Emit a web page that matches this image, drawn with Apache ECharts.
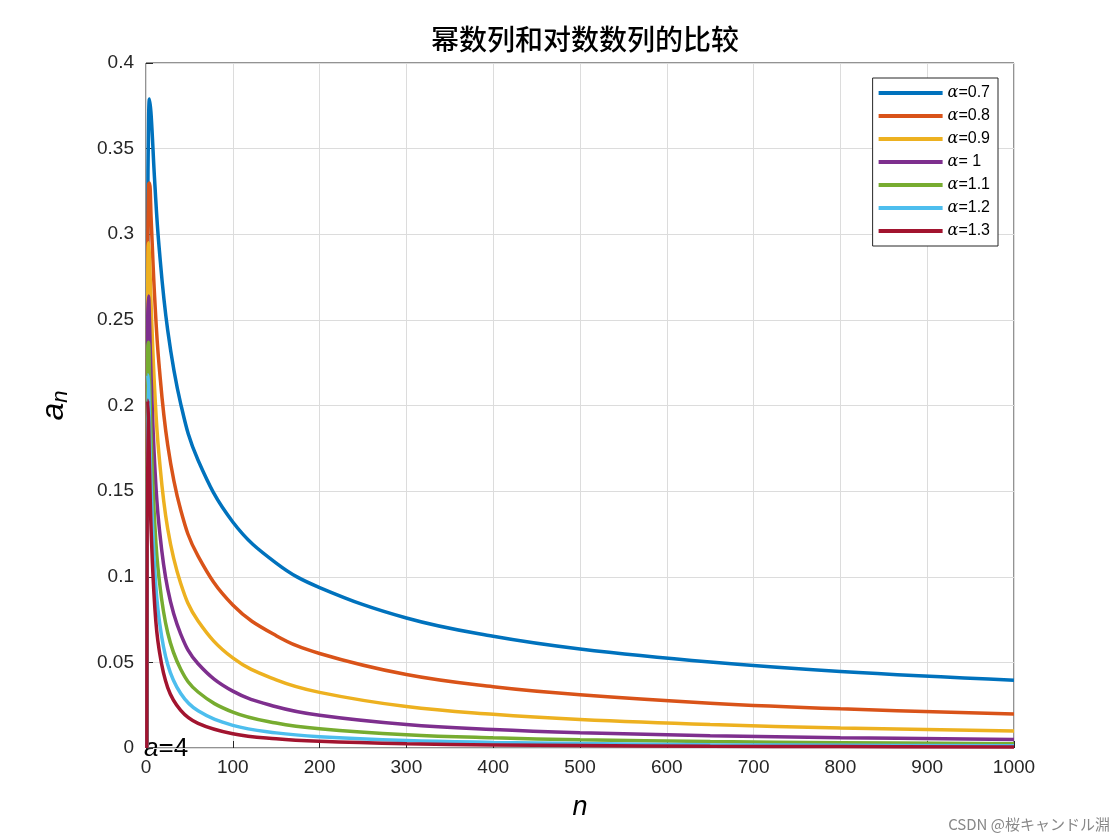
<!DOCTYPE html>
<html><head><meta charset="utf-8">
<script src="https://cdn.jsdelivr.net/npm/echarts@6/dist/echarts.min.js"></script>
<style>html,body{margin:0;padding:0;background:#fff}#c{width:1120px;height:840px}</style>
</head><body><div id="c"></div>
<script>
const nValues = [1,2,3,4,6,10,15,25,40,60,100,150,200,300,400,500,650,800,1000];
const alphaLabels = ['0.7','0.8','0.9',' 1','1.1','1.2','1.3'];
const a07 = [0,.308,.367,.379,.369,.331,.293,.244,.201,.168,.132,.108,.0937,.0759,.0652,.0578,.0502,.0447,.0396];
const a08 = [0,.287,.329,.330,.308,.263,.224,.177,.139,.112,.0835,.0656,.0552,.0429,.0358,.0311,.0262,.0229,.0198];
const a09 = [0,.268,.295,.287,.257,.209,.171,.128,.0961,.0742,.0526,.0398,.0325,.0242,.0197,.0167,.01374,.01174,.00994];
const a10 = [0,.25,.264,.25,.215,.166,.130,.0929,.0665,.0492,.0332,.0241,.0191,.0137,.0108,.00897,.00719,.00603,.00498];
const a11 = [0,.233,.237,.218,.180,.132,.0993,.0673,.0460,.0327,.02096,.0146,.01125,.00775,.00593,.00482,.00376,.00309,.00250];
const a12 = [0,.218,.212,.189,.151,.1048,.0758,.0488,.0318,.0217,.01322,.00884,.00662,.00438,.00326,.00259,.00197,.00158,.00125];
const a13 = [0,.203,.190,.165,.126,.0833,.0578,.0353,.0220,.0144,.00834,.00536,.00390,.00248,.00179,.00139,.00103,.00081,.00063];
const colors = ['#0072BD','#D95319','#EDB120','#7E2F8E','#77AC30','#4DBEEE','#A2142F'];
const allSeries = [a07,a08,a09,a10,a11,a12,a13];
const chart = echarts.init(document.getElementById('c'));
const F = 'Helvetica, Arial, "Liberation Sans", sans-serif';
chart.setOption({
  animation:false,
  title:{text:'幂数列和对数数列的比较',left:580,top:20,textAlign:'center',textStyle:{fontSize:28,fontWeight:500,color:'#000',fontFamily:'"Noto Sans CJK SC", sans-serif'}},
  grid:{left:146,right:106,top:63,bottom:92,show:true,borderColor:'#262626',borderWidth:1,backgroundColor:'#fff'},
  legend:{orient:'vertical',right:122,top:78,backgroundColor:'#fff',borderColor:'#262626',borderWidth:1,padding:[7,8,7,6],itemGap:7,itemWidth:64,itemHeight:4,
    icon:'rect',data:alphaLabels.map(a=>'α='+a),
    formatter:n=>'{a|α}{b|='+n.slice(2)+'}',
    textStyle:{rich:{a:{fontFamily:'"DejaVu Serif", serif',fontStyle:'italic',fontSize:16,color:'#000'},b:{fontFamily:F,fontSize:16,color:'#000'}}}},
  xAxis:{type:'value',min:0,max:1000,interval:100,name:'n',nameLocation:'middle',nameGap:46,
    nameTextStyle:{fontSize:27,fontStyle:'italic',color:'#000',fontFamily:F},
    axisLine:{show:false},axisTick:{inside:true,length:7,lineStyle:{color:'#262626'}},
    axisLabel:{fontSize:19,color:'#262626',fontFamily:F,margin:10,formatter:v=>String(v)},
    splitLine:{show:true,lineStyle:{color:'#dcdcdc'}}},
  yAxis:{type:'value',min:0,max:0.4,interval:0.05,name:'{a|a}{b|n}',nameLocation:'middle',nameGap:74,nameRotate:90,
    nameTextStyle:{rich:{a:{fontSize:32,fontStyle:'italic',fontFamily:F,color:'#000'},b:{fontSize:22,fontStyle:'italic',fontFamily:F,color:'#000',verticalAlign:'bottom',padding:[14,0,0,0]}}},
    axisLine:{show:false},axisTick:{inside:true,length:7,lineStyle:{color:'#262626'}},
    axisLabel:{fontSize:19,color:'#262626',fontFamily:F,margin:12,formatter:v=>String(+v.toFixed(2))},
    splitLine:{show:true,lineStyle:{color:'#dcdcdc'}}},
  series:allSeries.map((d,i)=>({name:'α='+alphaLabels[i],type:'line',smooth:0.4,showSymbol:false,
    lineStyle:{width:3.5,color:colors[i]},itemStyle:{color:colors[i]},
    data:d.map((v,j)=>[nValues[j],v])})),
  graphic:[
    {type:'text',left:144,top:736,style:{text:'{a|a}{b|=4}',rich:{a:{fontSize:26,fontStyle:'italic',fontFamily:F,fill:'#000'},b:{fontSize:26,fontFamily:F,fill:'#000'}}}},
    {type:'text',right:10,bottom:8,style:{text:'CSDN @桜キャンドル淵',fontSize:15,fill:'#888',fontFamily:'"Noto Sans CJK JP", sans-serif'}}
  ]
});
</script></body></html>
